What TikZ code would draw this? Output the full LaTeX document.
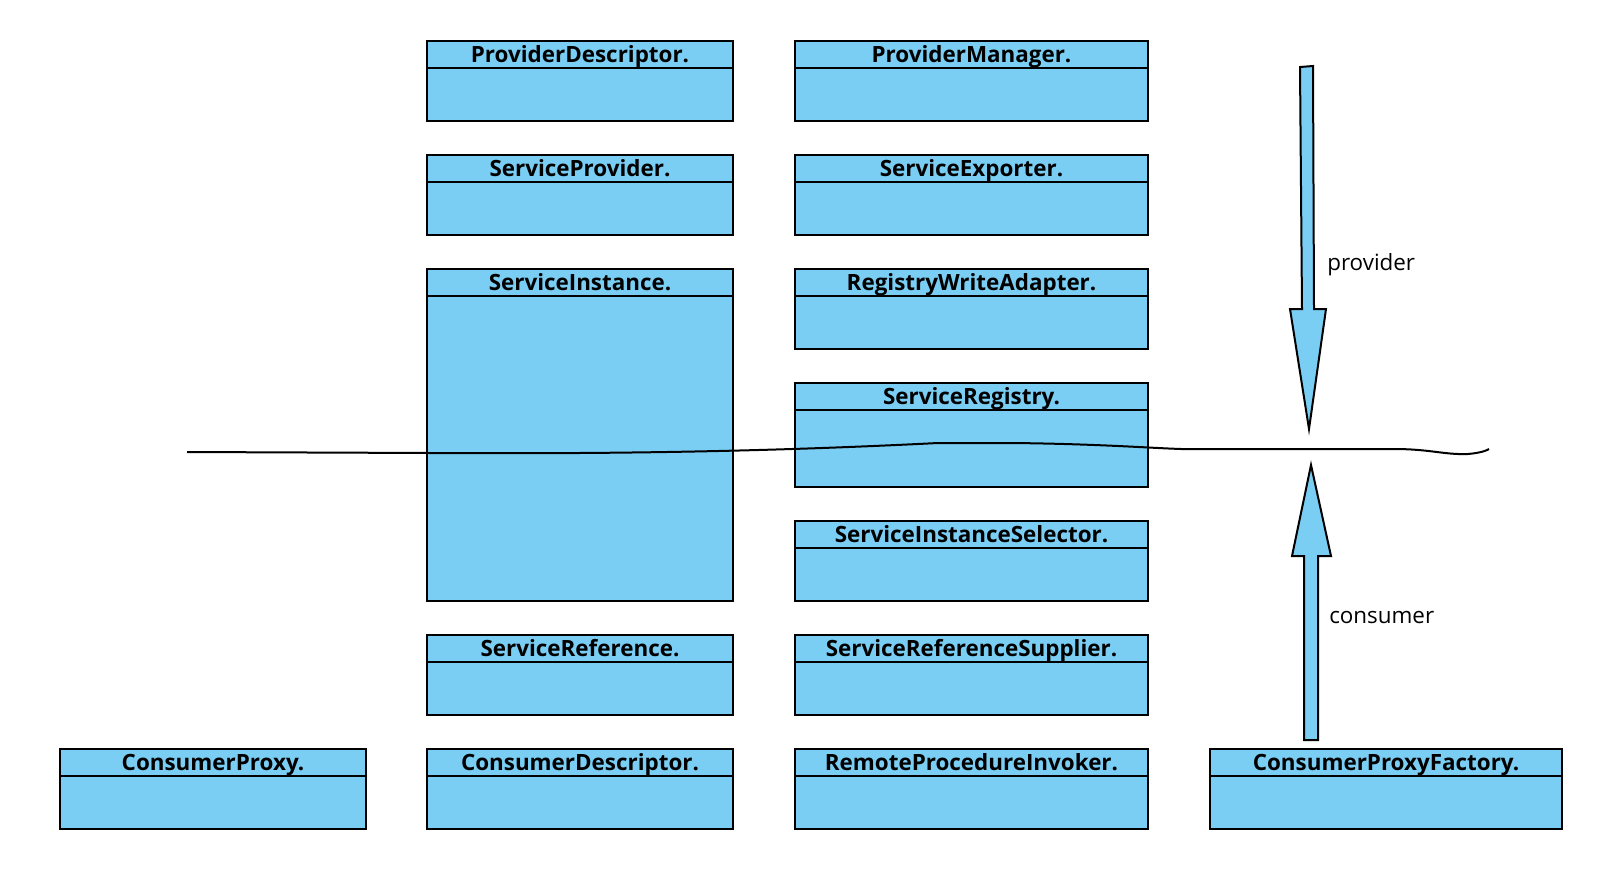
\documentclass[tikz,border=0pt]{standalone}
\usepackage{fontspec}
\setmainfont{Open Sans}
\usepackage{xcolor}
\usepackage{tikz}

\definecolor{classblue}{RGB}{122,206,244}

\tikzset{
  classbox/.style={draw=black, fill=classblue, line width=1.5pt, inner sep=0pt, anchor=north west},
  classtitle/.style={font=\fontsize{16.8}{19}\selectfont\bfseries, anchor=base, inner sep=0pt},
  flowlabel/.style={font=\fontsize{16.8}{19}\selectfont, anchor=base west, inner sep=0pt},
  flowarrow/.style={draw=black, fill=classblue, line width=1.5pt, line join=miter},
}

% name, left, top, width, height, title
\newcommand{\umlclass}[6]{%
  \node[classbox, minimum width=#4*0.75pt, minimum height=#5*0.75pt] (#1) at (#2,#3) {};
  \draw[line width=1.5pt] ([yshift=21pt]#1.north west) -- ([yshift=21pt]#1.north east);
  \node[classtitle] (#1-title) at ([yshift=16.5pt]#1.north) {#6};
}

\begin{document}
\begin{tikzpicture}[x=0.75pt,y=0.75pt,yscale=-1,xscale=1]
\useasboundingbox (0,0) rectangle (1610,868);

% left column
\umlclass{consumerproxy}{59}{748}{306}{80}{ConsumerProxy.}

% second column
\umlclass{providerdesc}{426}{40}{306}{80}{ProviderDescriptor.}
\umlclass{serviceprovider}{426}{154}{306}{80}{ServiceProvider.}
\umlclass{serviceinstance}{426}{268}{306}{332}{ServiceInstance.}
\umlclass{servicereference}{426}{634}{306}{80}{ServiceReference.}
\umlclass{consumerdesc}{426}{748}{306}{80}{ConsumerDescriptor.}

% third column
\umlclass{providermanager}{794}{40}{353}{80}{ProviderManager.}
\umlclass{serviceexporter}{794}{154}{353}{80}{ServiceExporter.}
\umlclass{registrywrite}{794}{268}{353}{80}{RegistryWriteAdapter.}
\umlclass{serviceregistry}{794}{382}{353}{104}{ServiceRegistry.}
\umlclass{instanceselector}{794}{520}{353}{80}{ServiceInstanceSelector.}
\umlclass{referencesupplier}{794}{634}{353}{80}{ServiceReferenceSupplier.}
\umlclass{rpcinvoker}{794}{748}{353}{80}{RemoteProcedureInvoker.}

% right column
\umlclass{proxyfactory}{1209}{748}{352}{80}{ConsumerProxyFactory.}

%Freehand divider
\draw [line width=1.5pt] (187,452) -- (431,453) .. controls (600,454) and (760,452) .. (938,443) -- (1013,443) .. controls (1100,444) and (1150,448) .. (1181,449) -- (1394,449) .. controls (1430,449) and (1445,455) .. (1468,454) .. controls (1479,453) and (1486,451) .. (1489,449) ;

%Block arrow: provider
\draw [flowarrow] (1300,67) -- (1313,66) -- (1314,309) -- (1326,309) -- (1309,429) -- (1290,309) -- (1302,309) -- cycle ;
%Block arrow: consumer
\draw [flowarrow] (1304,740) -- (1304,556) -- (1292,556) -- (1311,465) -- (1331,556) -- (1318,556) -- (1318,740) -- cycle ;

% Text Node
\node [flowlabel] (providerlabel) at (1327,270) {provider};
% Text Node
\node [flowlabel] (consumerlabel) at (1329,623) {consumer};

\end{tikzpicture}
\end{document}
